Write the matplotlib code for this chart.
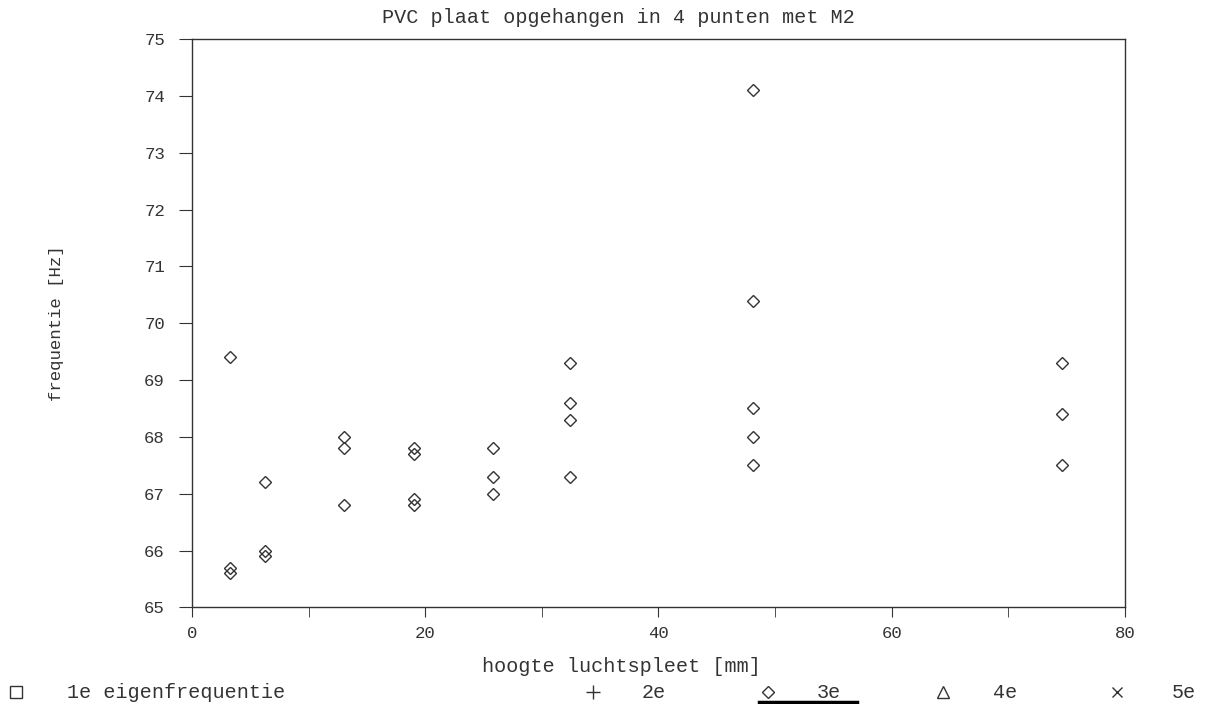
import matplotlib
matplotlib.use("Agg")
import matplotlib.pyplot as plt

# gemeten eigenfrequenties (3e) per hoogte luchtspleet
hoogte = [3.3, 3.3, 3.3,
          6.3, 6.3, 6.3,
          13.0, 13.0, 13.0,
          19.0, 19.0, 19.0, 19.0,
          25.8, 25.8, 25.8,
          32.4, 32.4, 32.4, 32.4,
          48.1, 48.1, 48.1, 48.1, 48.1,
          74.6, 74.6, 74.6]
freq = [69.4, 65.7, 65.6,
        67.2, 66.0, 65.9,
        68.0, 67.8, 66.8,
        67.8, 67.7, 66.9, 66.8,
        67.8, 67.3, 67.0,
        69.3, 68.6, 68.3, 67.3,
        74.1, 70.4, 68.5, 68.0, 67.5,
        69.3, 68.4, 67.5]

x_ticks = [0, 20, 40, 60, 80]
y_ticks = [65, 66, 67, 68, 69, 70, 71, 72, 73, 74, 75]

# legenda: symbool, tekst, x-positie symbool, x-positie tekst (figuurfractie)
leg_markers = ['s', '+', 'D', '^', 'x']
leg_labels = ['1e eigenfrequentie', '2e', '3e', '4e', '5e']
leg_mx = [0.0133, 0.4917, 0.6368, 0.7819, 0.9262]
leg_tx = [0.0556, 0.5323, 0.6774, 0.8234, 0.9718]
leg_ms = [8, 10, 6.3, 9, 7.5]

ink = "#333333"
plt.rcParams['font.family'] = ['Liberation Mono', 'DejaVu Sans Mono']

fig = plt.figure(figsize=(12.06, 7.04), dpi=100)
ax = fig.add_axes([0.1592, 0.1372, 0.7736, 0.8073])

ax.plot(hoogte, freq, linestyle='none', marker='D', markersize=5.8,
        markerfacecolor='none', markeredgecolor=ink, markeredgewidth=1.0)

ax.set_xlim(0, 80)
ax.set_ylim(65, 75)
ax.set_xticks(x_ticks)
ax.set_xticks([10, 30, 50, 70], minor=True)
ax.set_yticks(y_ticks)
ax.tick_params(axis='both', which='both', direction='out', colors=ink, labelsize=12.5)
ax.tick_params(axis='x', which='both', length=7.5, pad=6)
ax.tick_params(axis='y', length=9.5, pad=10)
for s in ax.spines.values():
    s.set_color(ink)
    s.set_linewidth(1.0)

fig.text(0.513, 0.968, 'PVC plaat opgehangen in 4 punten met M2', fontsize=14.5,
         color=ink, ha='center', va='baseline')
ax.set_ylabel('frequentie [Hz]', fontsize=12.5, color=ink)
ax.yaxis.set_label_coords(-0.137, 0.5)
fig.text(0.515, 0.046, 'hoogte luchtspleet [mm]', fontsize=14.5, color=ink,
         ha='center', va='baseline')

# legenda onderaan
ly = 0.0085
for m, lab, mx, tx, ms in zip(leg_markers, leg_labels, leg_mx, leg_tx, leg_ms):
    fig.lines.append(plt.Line2D([mx], [0.017], transform=fig.transFigure, linestyle='none',
                                marker=m, markersize=ms, markerfacecolor='none',
                                markeredgecolor=ink, markeredgewidth=1.0))
    fig.text(tx, ly, lab, fontsize=14.5, color=ink, va='baseline')
fig.lines.append(plt.Line2D([0.629, 0.711], [0.0025, 0.0025], transform=fig.transFigure,
                            color='black', linewidth=2.5))

fig.savefig('out.png', dpi=100)
